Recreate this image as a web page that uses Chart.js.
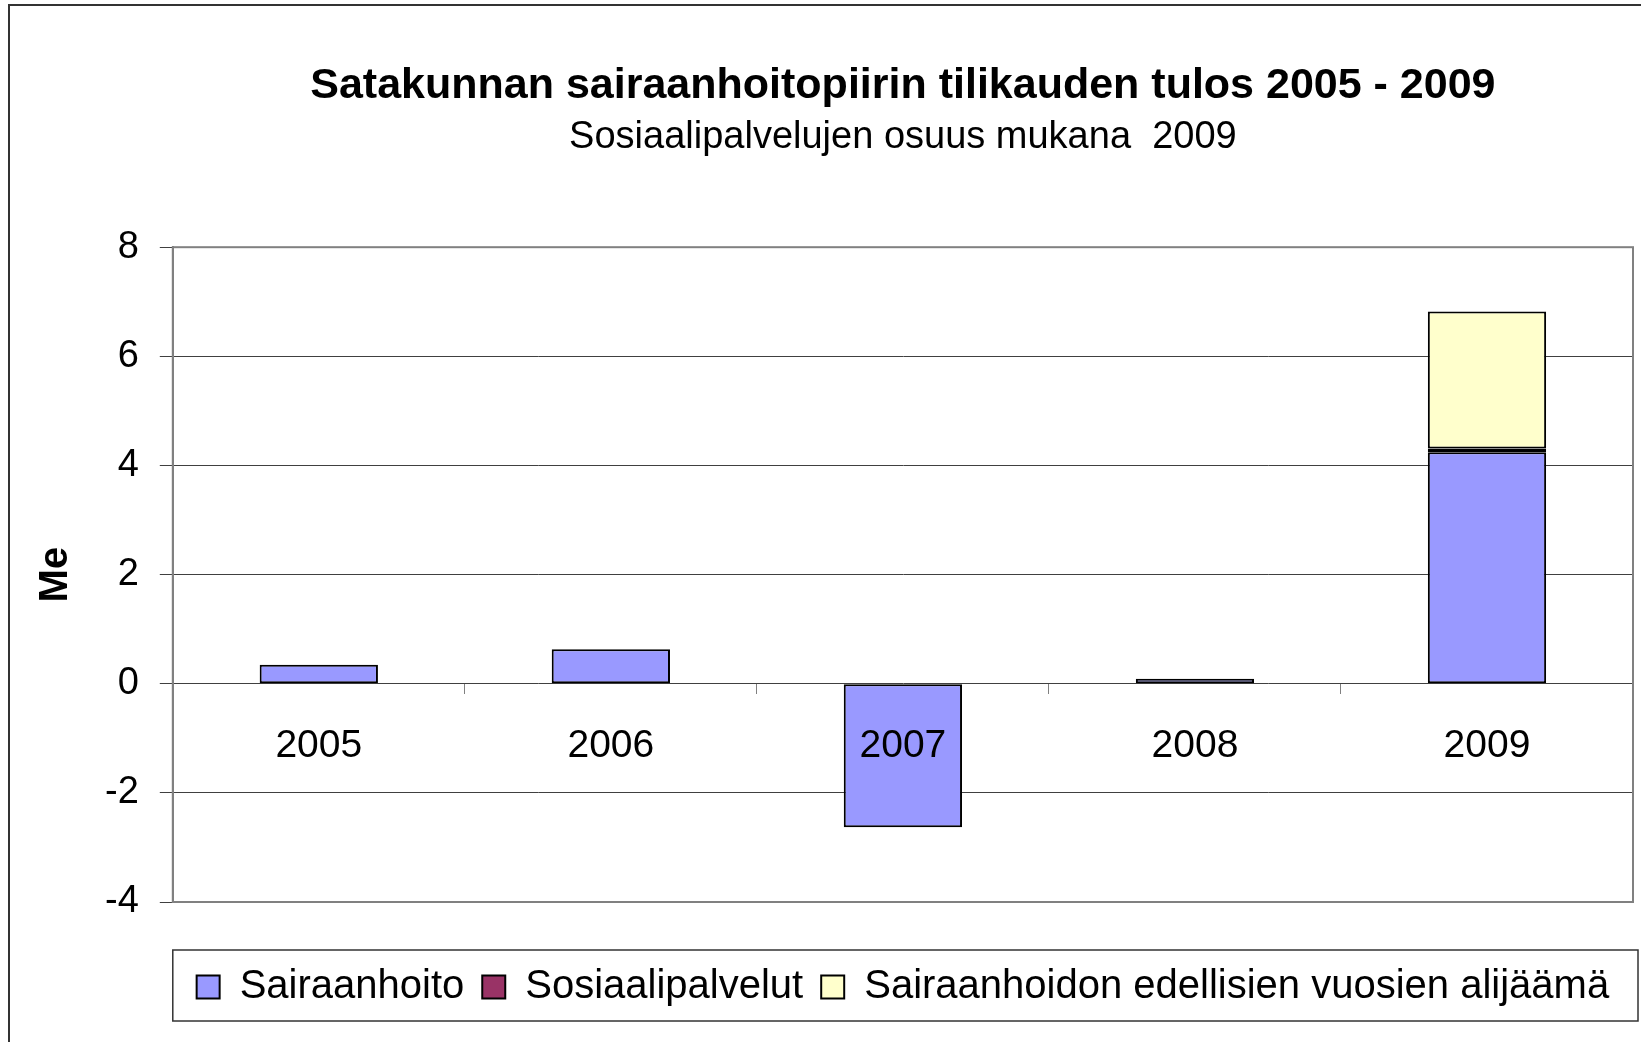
<!DOCTYPE html>
<html>
<head>
<meta charset="utf-8">
<script src="https://cdn.jsdelivr.net/npm/chart.js@4.4.1/dist/chart.umd.min.js"></script>
<style>
  html, body { margin: 0; padding: 0; background: #fff; }
  #wrap { width: 1641px; height: 1042px; }
</style>
</head>
<body>
<div id="wrap"><canvas id="chart" width="1641" height="1042"></canvas></div>
<script>
// data (Me)
var years = ['2005', '2006', '2007', '2008', '2009'];
var sairaanhoito = [0.35, 0.63, -2.63, 0.09, 4.24];
var sosiaalipalvelut = [null, null, null, null, 0.07];
var alijaama = [null, null, null, null, 2.51];
var seriesNames = ['Sairaanhoito', 'Sosiaalipalvelut', 'Sairaanhoidon edellisien vuosien alijäämä'];
var yMin = -4, yMax = 8, yStep = 2;

var FONT = '"Liberation Sans", Arial, sans-serif';

// frames: outer border, plot frame, legend box
var framePlugin = {
    id: 'frames',
    beforeDraw: function(chart) {
        var ctx = chart.ctx;
        ctx.save();
        ctx.fillStyle = '#fff';
        ctx.fillRect(0, 0, chart.width, chart.height);
        ctx.strokeStyle = '#333';
        ctx.lineWidth = 2;
        ctx.beginPath();
        ctx.moveTo(9, chart.height);
        ctx.lineTo(9, 5);
        ctx.lineTo(chart.width, 5);
        ctx.stroke();
        ctx.restore();
    },
    afterDraw: function(chart) {
        var ctx = chart.ctx;
        var a = chart.chartArea;
        ctx.save();
        ctx.strokeStyle = '#808080';
        ctx.lineWidth = 2;
        ctx.strokeRect(a.left, a.top, a.right - a.left, a.bottom - a.top);

        // legend frame
        var boxes = chart.legend.legendHitBoxes;
        if (boxes && boxes.length) {
            var cy = boxes[0].top + boxes[0].height / 2;
            ctx.strokeStyle = '#333';
            ctx.lineWidth = 1.5;
            ctx.strokeRect(a.left, cy - 37, a.right - a.left + 5, 71);
        }
        ctx.restore();
    }
};

new Chart(document.getElementById('chart'), {
    type: 'bar',
    data: {
        labels: years,
        datasets: [
            { label: seriesNames[0], data: sairaanhoito, backgroundColor: '#9999FF' },
            { label: seriesNames[1], data: sosiaalipalvelut, backgroundColor: '#993366' },
            { label: seriesNames[2], data: alijaama, backgroundColor: '#FFFFCC' }
        ]
    },
    options: {
        responsive: false,
        animation: false,
        datasets: {
            bar: {
                borderColor: '#000',
                borderWidth: 2,
                borderSkipped: false,
                categoryPercentage: 1,
                barPercentage: 0.405
            }
        },
        layout: { padding: { left: 9, right: 8, top: 10, bottom: 25 } },
        scales: {
            x: {
                stacked: true,
                position: { y: 0 },
                offset: true,
                border: { display: false },
                grid: {
                    offset: true,
                    drawOnChartArea: false,
                    drawTicks: true,
                    tickLength: 10,
                    color: '#808080',
                    lineWidth: 1
                },
                ticks: {
                    z: 1,
                    padding: 29,
                    color: '#000',
                    font: { family: FONT, size: 39, lineHeight: 1.2 }
                }
            },
            y: {
                stacked: true,
                min: yMin,
                max: yMax,
                border: { color: '#808080', width: 2 },
                grid: {
                    color: '#404040',
                    lineWidth: 1,
                    tickLength: 13
                },
                ticks: {
                    stepSize: yStep,
                    padding: 21,
                    color: '#000',
                    font: { family: FONT, size: 38, lineHeight: 1.2 }
                },
                title: {
                    display: true,
                    text: 'Me',
                    color: '#000',
                    padding: { top: 23, bottom: 4 },
                    font: { family: FONT, size: 40, weight: 'bold', lineHeight: 1.2 }
                }
            }
        },
        plugins: {
            title: {
                display: true,
                fullSize: false,
                text: 'Satakunnan sairaanhoitopiirin tilikauden tulos 2005 - 2009',
                color: '#000',
                padding: { top: 50, bottom: 0 },
                font: { family: FONT, size: 43, weight: 'bold', lineHeight: 1.2 }
            },
            subtitle: {
                display: true,
                fullSize: false,
                text: 'Sosiaalipalvelujen osuus mukana  2009',
                color: '#000',
                padding: { top: 3, bottom: 87 },
                font: { family: FONT, size: 38, weight: 'normal', lineHeight: 1.2 }
            },
            legend: {
                position: 'bottom',
                fullSize: false,
                title: {
                    display: true,
                    text: ' ',
                    padding: { top: 46, bottom: 0 },
                    font: { family: FONT, size: 1, lineHeight: 1 }
                },
                labels: {
                    boxWidth: 23,
                    boxHeight: 23,
                    padding: 18,
                    color: '#000',
                    font: { family: FONT, size: 40 }
                }
            },
            tooltip: { enabled: false }
        }
    },
    plugins: [framePlugin]
});
</script>
</body>
</html>
